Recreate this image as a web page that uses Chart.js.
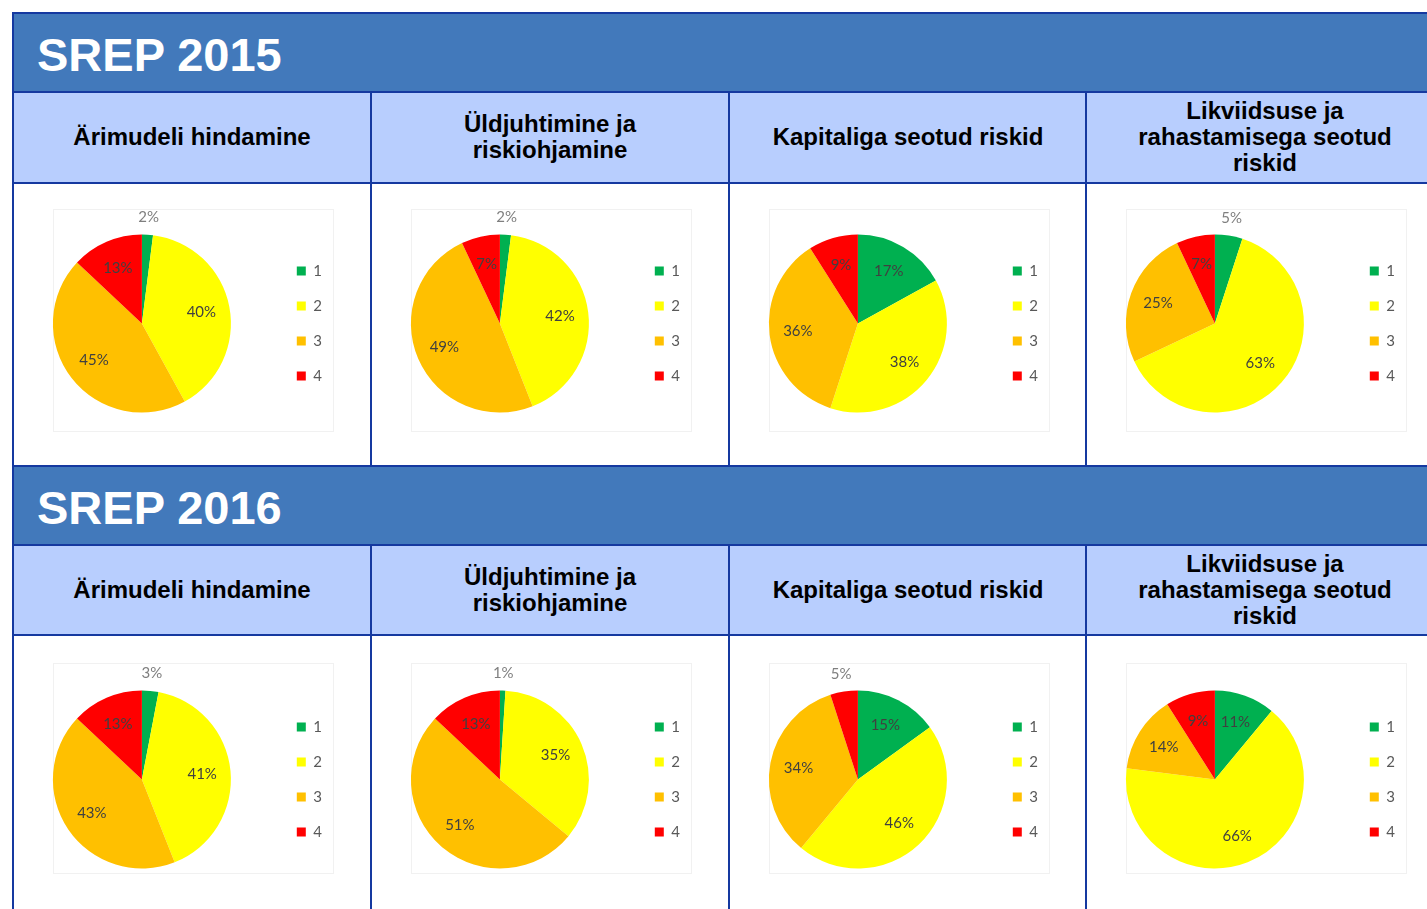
<!DOCTYPE html>
<html>
<head>
<meta charset="utf-8">
<script src="https://cdn.jsdelivr.net/npm/chart.js@4/dist/chart.umd.min.js"></script>
<style>
  html, body { margin: 0; padding: 0; background: #fff; width: 1427px; height: 909px; overflow: hidden; }
  #page { position: relative; width: 1427px; height: 909px; overflow: hidden; }
  .fill { position: absolute; }
  .line { position: absolute; background: #1539a0; }
  .year { position: absolute; color: #fff; font: bold 47px "Liberation Sans", Arial, sans-serif; line-height: 48px; white-space: nowrap; }
  .sub { position: absolute; display: flex; align-items: center; justify-content: center; text-align: center;
         font: bold 24px "Liberation Sans", Arial, sans-serif; line-height: 26px; color: #000; }
  .frame { position: absolute; border: 1px solid #f1f1f1; box-sizing: border-box; }
  canvas { position: absolute; }
</style>
</head>
<body>
<div id="page"></div>
<script>
// categories / legend
const categories = ['1', '2', '3', '4'];
const sliceColors = ['#00b050', '#ffff00', '#ffc000', '#ff0000'];

const years = ['SREP 2015', 'SREP 2016'];
const columnTitles = [
    'Ärimudeli hindamine',
    'Üldjuhtimine ja<br>riskiohjamine',
    'Kapitaliga seotud riskid',
    'Likviidsuse ja<br>rahastamisega seotud<br>riskid'
];

// shares in % (green, yellow, orange, red)
const ariMudel2015 = [2, 40, 45, 13];
const juhtimine2015 = [2, 42, 49, 7];
const kapital2015 = [17, 38, 36, 9];
const likviidsus2015 = [5, 63, 25, 7];

const ariMudel2016 = [3, 41, 43, 13];
const juhtimine2016 = [1, 35, 51, 13];
const kapital2016 = [15, 46, 34, 5];
const likviidsus2016 = [11, 66, 14, 9];

const yearData = [
    [ariMudel2015, juhtimine2015, kapital2015, likviidsus2015],
    [ariMudel2016, juhtimine2016, kapital2016, likviidsus2016]
];

// layout
const page = document.getElementById('page');
const colX = [12, 370, 728, 1085];
const sections = [
    { top: 12, subLine: 91, chartLine: 182, centerY: 323.5, frameTop: 209, frameH: 223 },
    { top: 465, subLine: 544, chartLine: 634, centerY: 779.5, frameTop: 663, frameH: 211 }
];
const R = 89;

function box(cls, x, y, w, h, extra) {
    const d = document.createElement('div');
    d.className = cls;
    d.style.left = x + 'px';
    d.style.top = y + 'px';
    d.style.width = w + 'px';
    d.style.height = h + 'px';
    if (extra) Object.assign(d.style, extra);
    page.appendChild(d);
    return d;
}

// percent labels on slices
const sliceLabels = {
    id: 'sliceLabels',
    afterDatasetsDraw(chart) {
        const ctx = chart.ctx;
        const meta = chart.getDatasetMeta(0);
        const vals = chart.data.datasets[0].data;
        ctx.save();
        ctx.font = '15px Lato, "Open Sans", sans-serif';
        ctx.textAlign = 'center';
        ctx.textBaseline = 'middle';
        meta.data.forEach((arc, i) => {
            const p = arc.getProps(['x', 'y', 'startAngle', 'endAngle', 'outerRadius'], true);
            const mid = (p.startAngle + p.endAngle) / 2;
            const small = vals[i] < 6;
            const r = small ? p.outerRadius * 1.2 : p.outerRadius * 0.68;
            ctx.fillStyle = small ? '#7f7f7f' : '#404040';
            ctx.fillText(vals[i] + '%', p.x + Math.cos(mid) * r, p.y + Math.sin(mid) * r);
        });
        ctx.restore();
    }
};

sections.forEach((s, si) => {
    // header band
    box('fill', 12, s.top, 1427, s.subLine - s.top, { background: '#4279bb' });
    box('year', 37, s.top + 19, 400, 48).textContent = years[si];
    // sub header band
    box('fill', 12, s.subLine, 1427, s.chartLine - s.subLine, { background: '#b8cefe' });

    colX.forEach((x, ci) => {
        const sub = box('sub', x + 2, s.subLine + 2, 356, s.chartLine - s.subLine - 3);
        sub.innerHTML = columnTitles[ci];
        box('frame', x + 41, s.frameTop, 281, s.frameH);

        const cv = document.createElement('canvas');
        const cTop = s.chartLine + 2;
        const cH = 270;
        cv.width = 350; cv.height = cH;
        cv.style.left = (x - 10) + 'px';
        cv.style.top = cTop + 'px';
        cv.style.width = '350px';
        cv.style.height = cH + 'px';
        page.appendChild(cv);

        const relC = s.centerY - cTop;
        new Chart(cv.getContext('2d'), {
            type: 'pie',
            data: {
                labels: categories,
                datasets: [{
                    data: yearData[si][ci],
                    backgroundColor: sliceColors,
                    borderWidth: 0,
                    hoverOffset: 0
                }]
            },
            options: {
                responsive: false,
                animation: false,
                layout: {
                    padding: { left: 5, right: 20, top: relC - R, bottom: cH - relC - R }
                },
                plugins: {
                    tooltip: { enabled: false },
                    legend: {
                        position: 'right',
                        labels: {
                            boxWidth: 9,
                            boxHeight: 9,
                            padding: 20,
                            color: '#595959',
                            font: { size: 15, family: 'Lato, "Open Sans", sans-serif' }
                        }
                    }
                }
            },
            plugins: [sliceLabels]
        });
    });
});

// grid lines
sections.forEach(s => {
    box('line', 12, s.top, 1427, 2);
    box('line', 12, s.subLine, 1427, 2);
    box('line', 12, s.chartLine, 1427, 2);
});
box('line', 12, 12, 2, 909);
sections.forEach((s, si) => {
    const bottom = si === 0 ? sections[1].top : 909;
    colX.slice(1).forEach(x => box('line', x, s.subLine, 2, bottom - s.subLine));
});
</script>
</body>
</html>
